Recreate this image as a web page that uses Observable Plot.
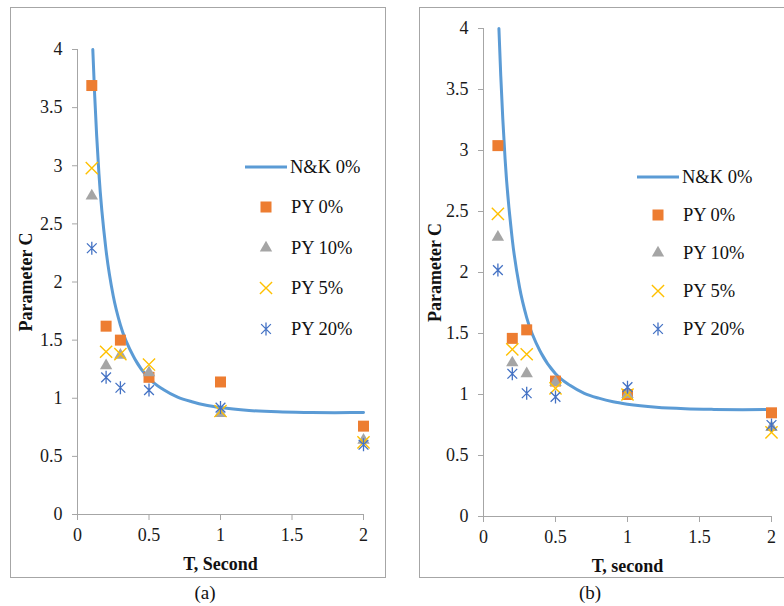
<!DOCTYPE html>
<html>
<head>
<meta charset="utf-8">
<script src="https://cdn.jsdelivr.net/npm/d3@7"></script>
<script src="https://cdn.jsdelivr.net/npm/@observablehq/plot@0.6"></script>
<style>
  html, body { margin: 0; padding: 0; background: #fff; }
  #page { position: relative; width: 784px; height: 606px; overflow: hidden; font-family: "Liberation Serif", "Times New Roman", "DejaVu Serif", serif; }
  #page svg, #page svg text { font-family: "Liberation Serif", "Times New Roman", "DejaVu Serif", serif !important; }
  .frame { position: absolute; border: 1px solid #a6a6a6; box-sizing: border-box; }
  .panel { position: absolute; top: 0; }
  .panel svg { overflow: visible; }
  g[aria-label="x-axis label"] text, g[aria-label="y-axis label"] text { font-weight: bold; font-size: 18px; fill: #111; }
  g[aria-label="x-axis tick"] path, g[aria-label="y-axis tick"] path { stroke: #a6a6a6; stroke-opacity: 1; }
  g[aria-label="x-axis tick label"] text, g[aria-label="y-axis tick label"] text { fill: #1a1a1a; font-size: 18px; }
  .caption { position: absolute; font-size: 19px; color: #111; transform: translate(-50%, -50%); }
  .leg { position: absolute; font-size: 18.5px; color: #111; white-space: nowrap; }
</style>
</head>
<body>
<div id="page">
  <div class="frame" style="left:10px; top:7px; width:376px; height:571px;"></div>
  <div class="frame" style="left:419px; top:7px; width:400px; height:571px;"></div>
  <div class="panel" id="pa" style="left:0px;"></div>
  <div class="panel" id="pb" style="left:392px;"></div>
  <div class="caption" style="left:205px; top:593px;">(a)</div>
  <div class="caption" style="left:590px; top:593px;">(b)</div>
</div>
<script>
// ---- data ----
const periods = [0.1, 0.2, 0.3, 0.5, 1, 2];
const xTicks = [0, 0.5, 1, 1.5, 2];
const yTicks = [0, 0.5, 1, 1.5, 2, 2.5, 3, 3.5, 4];
const seriesNames = ["N&K 0%", "PY 0%", "PY 10%", "PY 5%", "PY 20%"];

// N&K 0% curve
const nkT = [0.107, 0.12, 0.15, 0.2, 0.25, 0.3, 0.4, 0.5, 0.6, 0.7, 0.8, 0.9, 1.0, 1.2, 1.4, 1.6, 1.8, 2.0];
const nkC = [4.0, 3.61, 2.93, 2.27, 1.88, 1.63, 1.34, 1.17, 1.075, 1.01, 0.97, 0.94, 0.92, 0.895, 0.883, 0.878, 0.876, 0.877];

// panel (a)
const a_py0  = [3.69, 1.62, 1.50, 1.18, 1.14, 0.76];
const a_py10 = [2.74, 1.28, 1.37, 1.22, 0.87, 0.64];
const a_py5  = [2.98, 1.40, 1.38, 1.29, 0.89, 0.62];
const a_py20 = [2.29, 1.18, 1.09, 1.07, 0.92, 0.60];

// panel (b)
const b_py0  = [3.04, 1.46, 1.53, 1.11, 1.00, 0.85];
const b_py10 = [2.29, 1.26, 1.17, 1.10, 1.00, 0.73];
const b_py5  = [2.48, 1.37, 1.33, 1.05, 1.00, 0.69];
const b_py20 = [2.02, 1.17, 1.01, 0.98, 1.06, 0.75];

const colors = { line: "#5B9BD5", py0: "#ED7D31", py10: "#A5A5A5", py5: "#FFC000", py20: "#4472C4" };

// Excel-style star marker: X with vertical bar
const star = {
  draw(ctx, size) {
    const r = Math.sqrt(size / Math.PI);
    const d = r * 0.75;
    ctx.moveTo(-d, -d); ctx.lineTo(d, d);
    ctx.moveTo(d, -d); ctx.lineTo(-d, d);
    ctx.moveTo(0, -r); ctx.lineTo(0, r);
  }
};

function rows(vals) { return periods.map((t, i) => ({t, c: vals[i]})); }
const curve = nkT.map((t, i) => ({t, c: nkC[i]}));

function makePanel(cfg) {
  return Plot.plot({
    width: 392, height: 606,
    marginLeft: cfg.ml, marginRight: cfg.mr, marginTop: cfg.mt, marginBottom: cfg.mb,
    x: {domain: [0, 2]},
    y: {domain: [0, 4]},
    style: {fontFamily: "'Liberation Serif', 'Times New Roman', 'DejaVu Serif', serif", fontSize: "18px", background: "transparent", color: "#1a1a1a"},
    marks: [
      Plot.ruleY([0], {stroke: "#a6a6a6"}),
      Plot.ruleX([0], {stroke: "#a6a6a6"}),
      Plot.axisX({ticks: xTicks, tickSize: 6, tickPadding: 8, tickFormat: d => String(d),
                  label: cfg.xlabel, labelAnchor: "center", labelOffset: 55, labelArrow: "none"}),
      Plot.axisY({ticks: yTicks, tickSize: 5, tickPadding: 10, tickFormat: d => String(d),
                  label: "Parameter C", labelAnchor: "center", labelOffset: cfg.ylo, labelArrow: "none"}),
      Plot.line(curve, {x: "t", y: "c", stroke: colors.line, strokeWidth: 3, curve: "monotone-x"}),
      Plot.dot(rows(cfg.py0), {x: "t", y: "c", symbol: "square", r: 6.2, fill: colors.py0, stroke: "none"}),
      Plot.dot(rows(cfg.py10), {x: "t", y: "c", symbol: "triangle", r: 4.6, fill: colors.py10, stroke: "none"}),
      Plot.dot(rows(cfg.py5), {x: "t", y: "c", symbol: "times", r: 5.6, stroke: colors.py5, fill: "none", strokeWidth: 1.4}),
      Plot.dot(rows(cfg.py20), {x: "t", y: "c", symbol: star, r: 6.5, stroke: colors.py20, fill: "none", strokeWidth: 1.3})
    ]
  });
}

document.getElementById("pa").appendChild(makePanel({
  ml: 77, mr: 29, mt: 49, mb: 92, ylo: 58, xlabel: "T, Second",
  py0: a_py0, py10: a_py10, py5: a_py5, py20: a_py20
}));
document.getElementById("pb").appendChild(makePanel({
  ml: 91, mr: 13, mt: 28, mb: 90, ylo: 55, xlabel: "T, second",
  py0: b_py0, py10: b_py10, py5: b_py5, py20: b_py20
}));

// legends (HTML overlay)
function legendSymbol(i) {
  const s = d3.create("svg").attr("width", 44).attr("height", 16).style("vertical-align", "middle").style("overflow", "visible");
  const cx = 21, cy = 8;
  if (i === 0) s.append("line").attr("x1", 0).attr("x2", 42).attr("y1", cy).attr("y2", cy).attr("stroke", colors.line).attr("stroke-width", 3);
  if (i === 1) s.append("rect").attr("x", cx - 5.5).attr("y", cy - 5.5).attr("width", 11).attr("height", 11).attr("fill", colors.py0);
  if (i === 2) s.append("path").attr("d", d3.symbol(d3.symbolTriangle, Math.PI * 4.6 * 4.6)()).attr("transform", `translate(${cx},${cy})`).attr("fill", colors.py10);
  if (i === 3) s.append("path").attr("d", d3.symbol(d3.symbolTimes, Math.PI * 5.6 * 5.6)()).attr("transform", `translate(${cx},${cy})`).attr("fill", "none").attr("stroke", colors.py5).attr("stroke-width", 1.4);
  if (i === 4) s.append("path").attr("d", d3.symbol(star, Math.PI * 6.5 * 6.5)()).attr("transform", `translate(${cx},${cy})`).attr("fill", "none").attr("stroke", colors.py20).attr("stroke-width", 1.3);
  return s.node();
}
function addLegend(left, tops) {
  const page = document.getElementById("page");
  seriesNames.forEach((name, i) => {
    const div = document.createElement("div");
    div.className = "leg";
    div.style.left = left + "px";
    div.style.top = (tops[i] - 9) + "px";
    div.style.lineHeight = "18px";
    div.appendChild(legendSymbol(i));
    const sp = document.createElement("span");
    sp.textContent = name;
    sp.style.marginLeft = i === 0 ? "1px" : "2px";
    sp.style.verticalAlign = "middle";
    div.appendChild(sp);
    page.appendChild(div);
  });
}
addLegend(245, [165, 205, 246, 286, 327]);
addLegend(637, [175, 213, 251, 289, 327]);
</script>
</body>
</html>
